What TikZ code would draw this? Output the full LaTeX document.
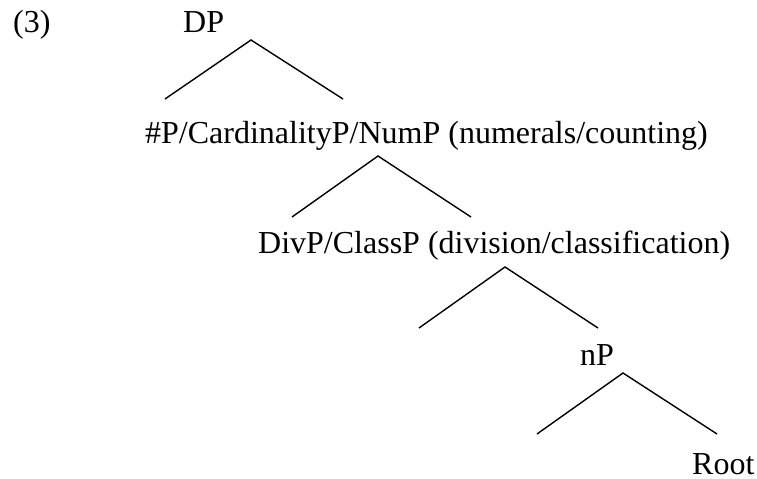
\documentclass[tikz,border=0pt]{standalone}
\usepackage{fontspec}
\setmainfont{Liberation Serif}
\begin{document}
\begin{tikzpicture}[x=1bp,y=-1bp,
  lbl/.style={anchor=base west,inner sep=0pt,font=\fontsize{32bp}{38bp}\selectfont},
  branch/.style={line width=1.4bp,line join=miter}]
\useasboundingbox (0,0) rectangle (757,479);
% labels
\node[lbl] (ex) at (13,33) {(3)};
\node[lbl] (dp) at (183,33) {DP};
\node[lbl] (num) at (145,144) {\#P/CardinalityP/NumP (numerals/counting)};
\node[lbl] (div) at (258,254) {DivP/ClassP (division/classification)};
\node[lbl] (np) at (580,365) {nP};
\node[lbl] (root) at (692,474) {Root};
% branch points
\coordinate (p1) at (251,40);  \coordinate (l1) at (165,99);  \coordinate (r1) at (343,99);
\coordinate (p2) at (378,156); \coordinate (l2) at (292,217); \coordinate (r2) at (471,217);
\coordinate (p3) at (505,267); \coordinate (l3) at (419,328); \coordinate (r3) at (598,328);
\coordinate (p4) at (623,373); \coordinate (l4) at (537,434); \coordinate (r4) at (717,434);
\draw[branch] (l1) -- (p1) -- (r1);
\draw[branch] (l2) -- (p2) -- (r2);
\draw[branch] (l3) -- (p3) -- (r3);
\draw[branch] (l4) -- (p4) -- (r4);
\end{tikzpicture}
\end{document}
